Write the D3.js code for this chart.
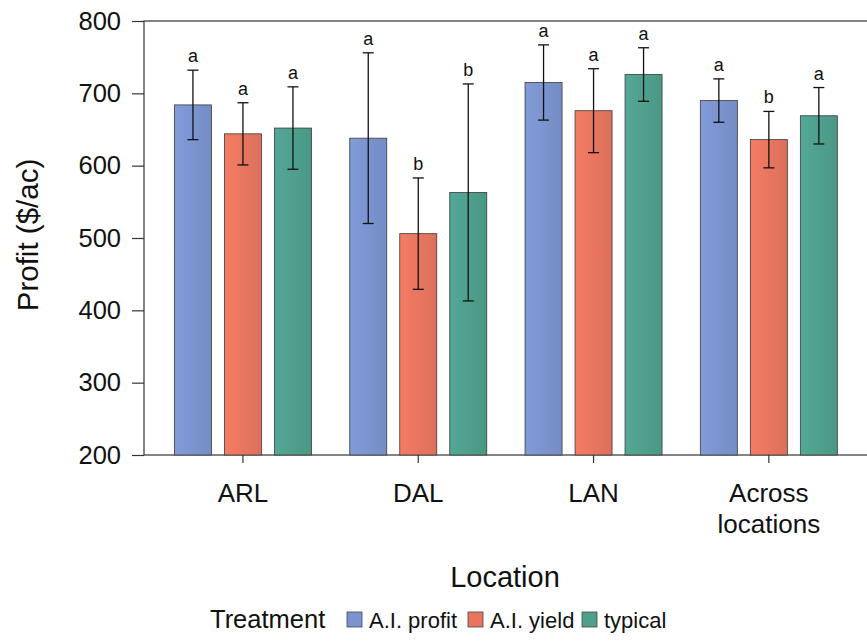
<!DOCTYPE html>
<html>
<head>
<meta charset="utf-8">
<script src="https://cdn.jsdelivr.net/npm/d3@7"></script>
<style>
  body { margin: 0; background: #fff; }
  text { font-family: "Liberation Sans", Arial, sans-serif; fill: #111; }
</style>
</head>
<body>
<div id="chart"></div>
<script>
// data
const locations = ['ARL', 'DAL', 'LAN', 'Across locations'];
const treatments = ['A.I. profit', 'A.I. yield', 'typical'];
const means = {
  'A.I. profit': [684, 638, 715, 690],
  'A.I. yield':  [644, 506, 676, 636],
  'typical':     [652, 563, 726, 669]
};
const errs = {
  'A.I. profit': [48, 118, 52, 30],
  'A.I. yield':  [43, 77, 58, 39],
  'typical':     [57, 150, 37, 39]
};
const letters = {
  'A.I. profit': ['a', 'a', 'a', 'a'],
  'A.I. yield':  ['a', 'b', 'a', 'b'],
  'typical':     ['a', 'b', 'a', 'a']
};
const yTicks = [200, 300, 400, 500, 600, 700, 800];
const colors = ['#7b94cf', '#e8765f', '#4f9f8d'];

const W = 867, H = 643;
const pLeft = 144, pTop = 21, pBottom = 455, pRight = 880;

let svg = d3.select('#chart').append('svg')
    .attr('width', W)
    .attr('height', H);

let y = d3.scaleLinear().domain([200, 800]).range([pBottom, pTop]);
let x0 = d3.scaleBand().domain(locations).range([155.3, 856.5]);
let x1 = d3.scaleBand().domain(treatments).range([19.15, 156.15]).paddingInner(0.26);

// gradients for the slightly shaded bars
let defs = svg.append('defs');
treatments.forEach((t, i) => {
  let c = d3.color(colors[i]);
  let g = defs.append('linearGradient').attr('id', 'g' + i);
  g.append('stop').attr('offset', '0%').attr('stop-color', c.brighter(0.15));
  g.append('stop').attr('offset', '100%').attr('stop-color', c.darker(0.15));
});

// frame
svg.append('rect')
    .attr('x', pLeft).attr('y', pTop)
    .attr('width', pRight - pLeft).attr('height', pBottom - pTop)
    .attr('fill', 'none').attr('stroke', '#333').attr('stroke-width', 1.2);

// bars
let rows = [];
locations.forEach((loc, li) => {
  treatments.forEach((t) => {
    rows.push({ loc: loc, t: t, v: means[t][li], e: errs[t][li], l: letters[t][li] });
  });
});

let g = svg.append('g');
g.selectAll('.bar')
  .data(rows)
  .enter()
  .append('rect')
    .attr('class', 'bar')
    .attr('x', (d) => x0(d.loc) + x1(d.t))
    .attr('y', (d) => y(d.v))
    .attr('width', x1.bandwidth())
    .attr('height', (d) => y(200) - y(d.v))
    .attr('fill', (d) => 'url(#g' + treatments.indexOf(d.t) + ')')
    .attr('stroke', '#3a3a3a')
    .attr('stroke-width', 0.8);

// error bars
let cx = (d) => x0(d.loc) + x1(d.t) + x1.bandwidth() / 2;
let eb = g.selectAll('.err').data(rows).enter().append('g').attr('class', 'err')
    .attr('stroke', '#111').attr('stroke-width', 1.3);
eb.append('line')
    .attr('x1', cx).attr('x2', cx)
    .attr('y1', (d) => y(d.v + d.e)).attr('y2', (d) => y(d.v - d.e));
eb.append('line')
    .attr('x1', (d) => cx(d) - 5.5).attr('x2', (d) => cx(d) + 5.5)
    .attr('y1', (d) => y(d.v + d.e)).attr('y2', (d) => y(d.v + d.e));
eb.append('line')
    .attr('x1', (d) => cx(d) - 5.5).attr('x2', (d) => cx(d) + 5.5)
    .attr('y1', (d) => y(d.v - d.e)).attr('y2', (d) => y(d.v - d.e));

// letters
g.selectAll('.lett').data(rows).enter().append('text')
    .attr('x', cx)
    .attr('y', (d) => y(d.v + d.e) - 8)
    .attr('text-anchor', 'middle')
    .style('font-size', '18px')
    .text((d) => d.l);

// y axis
let ya = svg.append('g').attr('transform', 'translate(' + pLeft + ',0)')
    .call(d3.axisLeft(y).tickValues(yTicks).tickSize(12).tickPadding(11));
ya.select('.domain').remove();
ya.selectAll('line').attr('stroke', '#333').attr('stroke-width', 1.2);
ya.selectAll('text').style('font-size', '25.5px').attr('fill', '#111');

// x axis
let xa = svg.append('g').attr('transform', 'translate(0,' + pBottom + ')')
    .call(d3.axisBottom(x0).tickSize(8).tickFormat(''));
xa.select('.domain').remove();
xa.selectAll('line').attr('stroke', '#333').attr('stroke-width', 1.2);
xa.selectAll('.tick').each(function(d) {
  let words = d === 'Across locations' ? ['Across', 'locations'] : [d];
  let t = d3.select(this).append('text')
      .attr('text-anchor', 'middle')
      .style('font-size', '26px');
  words.forEach((w, i) => {
    t.append('tspan').attr('x', 0).attr('y', 47 + i * 31).text(w);
  });
});

// axis titles
svg.append('text')
    .attr('transform', 'translate(38,235) rotate(-90)')
    .attr('text-anchor', 'middle')
    .style('font-size', '29.5px')
    .text('Profit ($/ac)');
svg.append('text')
    .attr('x', 505).attr('y', 587)
    .attr('text-anchor', 'middle')
    .style('font-size', '29px')
    .text('Location');

// legend
let leg = svg.append('g').attr('transform', 'translate(0,628)');
leg.append('text').attr('x', 210).attr('y', 0).style('font-size', '25.5px').text('Treatment');
let legX = [347, 468, 582];
treatments.forEach((t, i) => {
  leg.append('rect')
      .attr('x', legX[i]).attr('y', -16)
      .attr('width', 15).attr('height', 15)
      .attr('fill', colors[i]).attr('stroke', '#444').attr('stroke-width', 0.8);
  leg.append('text')
      .attr('x', legX[i] + 22).attr('y', 0)
      .style('font-size', '22px')
      .text(t);
});
</script>
</body>
</html>
